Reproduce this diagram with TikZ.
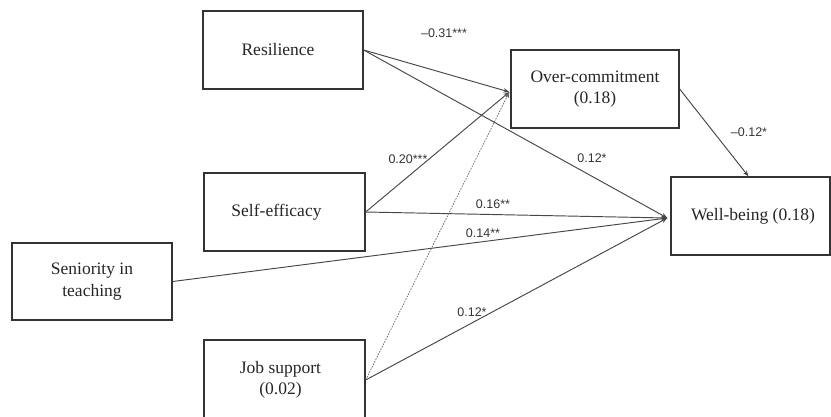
\documentclass[tikz,border=0pt]{standalone}
\usepackage{fontspec}
\setmainfont{Liberation Serif}
\newfontfamily\labfont{Liberation Sans}
\usetikzlibrary{arrows.meta,calc}
\begin{document}
\begin{tikzpicture}[x=1pt,y=-1pt,
  box/.style={draw=black!80,line width=1.3pt,rectangle,inner sep=0pt,align=center,
    font=\fontsize{17.5}{21.5}\selectfont,text=black!85},
  path/.style={draw=black!72,line width=0.95pt,-{Stealth[length=6pt,width=4.5pt]}},
  dotpath/.style={draw=black!60,line width=0.7pt,dash pattern=on 1.6pt off 1.2pt,-{Stealth[length=6pt,width=4.5pt]}},
  coef/.style={font=\labfont\fontsize{12.5}{14}\selectfont,text=black!80,inner sep=0pt}]
\useasboundingbox (0,0) rectangle (831,416);
\node[box,minimum width=160pt,minimum height=78pt] (res) at (283,50) {Resilience\hspace*{10pt}};
\node[box,minimum width=161pt,minimum height=78pt] (se) at (284.5,212) {\raisebox{4pt}{Self-efficacy}\hspace*{16pt}};
\node[box,minimum width=160pt,minimum height=77pt] (sen) at (92,281.5) {Seniority in\\teaching};
\node[box,minimum width=161pt,minimum height=80pt] (js) at (284.5,380) {Job support\hspace*{8pt}\\(0.02)\hspace*{8pt}};
\node[box,minimum width=168pt,minimum height=78pt] (oc) at (595,89) {Over-commitment\\(0.18)};
\node[box,minimum width=159pt,minimum height=78pt] (wb) at (750.5,216) {\hspace*{5pt}Well-being (0.18)};
\draw[path] (res.east) -- ($(oc.west)+(-1,3)$);
\draw[path] (res.east) -- ($(wb.west)+(-3,2)$);
\draw[path] (se.east) -- ($(oc.west)+(-1,3)$);
\draw[path] (se.east) -- ($(wb.west)+(-3,2)$);
\draw[path] (sen.east) -- ($(wb.west)+(-3,2)$);
\draw[dotpath] (js.east) -- ($(oc.west)+(-1,3)$);
\draw[path] (js.east) -- ($(wb.west)+(-3,2)$);
\draw[path] (oc.east) -- ($(wb.north)+(-2,0)$);
\node[coef] (c1) at (444,33) {–0.31***};
\node[coef] (c2) at (408,159) {0.20***};
\node[coef] (c3) at (592,158) {0.12*};
\node[coef] (c4) at (493,204) {0.16**};
\node[coef] (c5) at (483,233) {0.14**};
\node[coef] (c6) at (472,312) {0.12*};
\node[coef] (c7) at (749,132) {–0.12*};
\end{tikzpicture}
\end{document}
